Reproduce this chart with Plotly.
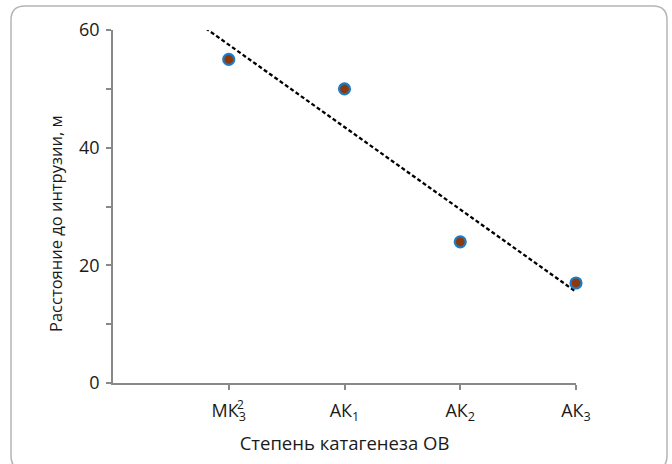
import numpy as np
import plotly.graph_objects as go

categories = ["МК<sub>3</sub>", "АК<sub>1</sub>", "АК<sub>2</sub>", "АК<sub>3</sub>"]
positions = [1, 2, 3, 4]
distance = [55, 50, 24, 17]

# linear trend (least squares), extended slightly backward
slope, intercept = np.polyfit(positions, distance, 1)
tx = np.array([0.8, 4.0])
ty = slope * tx + intercept

fig = go.Figure()
fig.add_trace(go.Scatter(
    x=tx, y=ty, mode="lines",
    line=dict(color="black", width=2.3, dash="4px,2.5px"),
    hoverinfo="skip", showlegend=False, cliponaxis=False,
))
fig.add_trace(go.Scatter(
    x=positions, y=distance, mode="markers",
    marker=dict(size=11, color="#8B3A0F", line=dict(color="#1F7BC4", width=2.2)),
    showlegend=False, cliponaxis=False,
))

FONT = "Open Sans, sans-serif"
axis_font = dict(family=FONT, size=18, color="#1a1a1a")
title_font = dict(family=FONT, size=18.5, color="#1a1a1a")
ytitle_font = dict(family=FONT, size=16.5, color="#1a1a1a")

W, H = 672, 464
pl, pr, pt, pb = 113, 96, 30, 81
pw, ph = W - pl - pr, H - pt - pb
def px(x):
    return (x - pl) / pw
def py(y):
    return (H - pb - y) / ph

fig.update_layout(
    width=W, height=H,
    margin=dict(l=pl, r=pr, t=pt, b=pb),
    paper_bgcolor="white", plot_bgcolor="white",
    xaxis=dict(
        range=[0, 4], tickmode="array", tickvals=positions, ticktext=categories,
        showgrid=False, zeroline=False, showline=True, linecolor="#888888", linewidth=1.5,
        ticks="outside", ticklen=5, tickcolor="#888888", tickwidth=1.5,
        tickfont=axis_font, ticklabelstandoff=6,
        title=dict(text="Степень катагенеза ОВ", font=title_font, standoff=13),
    ),
    yaxis=dict(
        range=[0, 60], tickmode="array", tickvals=[0, 20, 40, 60],
        showgrid=False, zeroline=False, showline=True, linecolor="#888888", linewidth=1.5,
        ticks="outside", ticklen=5, tickcolor="#888888", tickwidth=1.5,
        minor=dict(tickvals=[10, 30, 50], ticks="outside", ticklen=5, tickcolor="#888888", tickwidth=1.5),
        tickfont=axis_font, ticklabelstandoff=3,
    ),
)

# y-axis title (placed slightly below the plot centre, as in the reference)
fig.add_annotation(x=px(56), y=py(224), xref="paper", yref="paper",
                   text="Расстояние до интрузии, м", textangle=-90, showarrow=False,
                   font=ytitle_font, xanchor="center", yanchor="middle")

# stacked superscript "2" over the subscript of the first category label
fig.add_annotation(x=positions[0], y=0, xref="x", yref="y", text="2", showarrow=False,
                   font=dict(family=FONT, size=12, color="#1a1a1a"),
                   xanchor="center", yanchor="middle", xshift=12, yshift=-21)

# rounded frame around the chart
x0, x1 = 11, 667
y0, y1 = 6, 470
r = 14
path = (f"M {px(x0+r)},{py(y0)} L {px(x1-r)},{py(y0)} Q {px(x1)},{py(y0)} {px(x1)},{py(y0+r)} "
        f"L {px(x1)},{py(y1-r)} Q {px(x1)},{py(y1)} {px(x1-r)},{py(y1)} L {px(x0+r)},{py(y1)} "
        f"Q {px(x0)},{py(y1)} {px(x0)},{py(y1-r)} L {px(x0)},{py(y0+r)} Q {px(x0)},{py(y0)} {px(x0+r)},{py(y0)} Z")
fig.add_shape(type="path", path=path, xref="paper", yref="paper",
              line=dict(color="#b5b5b5", width=1.5), layer="below")

fig.write_html("out.html")
